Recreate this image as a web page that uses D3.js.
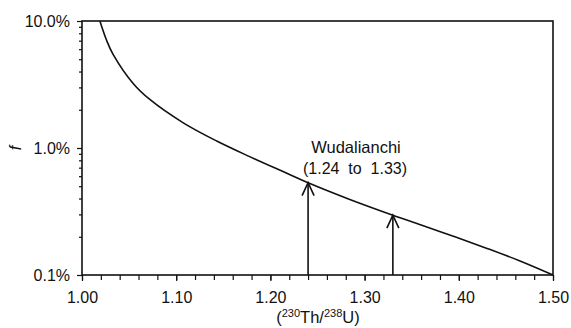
<!DOCTYPE html>
<html>
<head>
<meta charset="utf-8">
<script src="https://cdn.jsdelivr.net/npm/d3@7"></script>
<style>
  body { margin: 0; background: #fff; }
  text { font-family: "Liberation Sans", Arial, sans-serif; fill: #111; }
</style>
</head>
<body>
<div id="chart"></div>
<script>
// curve: activity ratio vs f (fraction)
const ratio = [1.019, 1.026, 1.033, 1.055, 1.072, 1.1075, 1.143, 1.178, 1.214, 1.240, 1.285, 1.330, 1.360, 1.395, 1.430, 1.465, 1.500];
const fValue = [0.100, 0.0708, 0.0547, 0.0318, 0.0241, 0.01578, 0.01135, 0.00855, 0.00649, 0.00533, 0.00392, 0.00296, 0.00248, 0.00201, 0.00162, 0.00129, 0.0010];

// arrows marking the Wudalianchi range
const arrowX = [1.24, 1.33];
const arrowF = [0.00533, 0.00296];

const xTicks = [1.0, 1.1, 1.2, 1.3, 1.4, 1.5];
const yTicks = [0.001, 0.01, 0.1];

const config_size = {
  svg_width: 571,
  svg_height: 328,
  plot: { left: 82, right: 553, top: 21, bottom: 275 },
};

const svg = d3.select('#chart').append('svg')
  .attr('width', config_size.svg_width)
  .attr('height', config_size.svg_height);

const p = config_size.plot;

const x = d3.scaleLinear().domain([1.0, 1.5]).range([p.left, p.right]);
const y = d3.scaleLog().domain([0.001, 0.1]).range([p.bottom, p.top]);

// minor ticks
const xMinor = d3.range(0, 26).map(i => 1 + i * 0.02);
const yMinor = [];
[0.001, 0.01].forEach(d => { for (let k = 2; k <= 9; k++) yMinor.push(d * k); });

svg.append('g')
  .attr('transform', `translate(0,${p.bottom})`)
  .call(d3.axisBottom(x).tickValues(xMinor).tickSize(5).tickFormat(''))
  .call(g => g.select('.domain').remove())
  .selectAll('line').attr('stroke', '#111').attr('stroke-width', 1.2);

svg.append('g')
  .attr('transform', `translate(${p.left},0)`)
  .call(d3.axisLeft(y).tickValues(yMinor).tickSize(3).tickFormat(''))
  .call(g => g.select('.domain').remove())
  .selectAll('line').attr('stroke', '#111').attr('stroke-width', 1.2);

// major ticks with labels
const xAxis = svg.append('g')
  .attr('transform', `translate(0,${p.bottom})`)
  .call(d3.axisBottom(x).tickValues(xTicks).tickSize(6).tickPadding(11).tickFormat(d3.format('.2f')));
xAxis.select('.domain').remove();
xAxis.selectAll('line').attr('stroke', '#111').attr('stroke-width', 1.2);
xAxis.selectAll('text').style('font-size', '16px').attr('fill', '#111')
  .style('font-family', '"Liberation Sans", Arial, sans-serif');

const yAxis = svg.append('g')
  .attr('transform', `translate(${p.left},0)`)
  .call(d3.axisLeft(y).tickValues(yTicks).tickSize(5).tickPadding(7).tickFormat(d3.format('.1%')));
yAxis.select('.domain').remove();
yAxis.selectAll('line').attr('stroke', '#111').attr('stroke-width', 1.2);
yAxis.selectAll('text').style('font-size', '16px').attr('fill', '#111')
  .style('font-family', '"Liberation Sans", Arial, sans-serif');

// frame
svg.append('rect')
  .attr('x', p.left).attr('y', p.top)
  .attr('width', p.right - p.left).attr('height', p.bottom - p.top)
  .attr('fill', 'none').attr('stroke', '#111').attr('stroke-width', 1.6);

// the curve
const data = ratio.map((r, i) => ({ r: r, f: fValue[i] }));
svg.append('path')
  .datum(data)
  .attr('fill', 'none')
  .attr('stroke', '#111')
  .attr('stroke-width', 1.6)
  .attr('d', d3.line()
    .x(d => x(d.r))
    .y(d => y(d.f))
    .curve(d3.curveCatmullRom.alpha(0.5)));

// arrows
arrowX.forEach((r, i) => {
  const ax = x(r), ay = y(arrowF[i]);
  svg.append('line')
    .attr('x1', ax).attr('x2', ax)
    .attr('y1', p.bottom).attr('y2', ay)
    .attr('stroke', '#111').attr('stroke-width', 1.6);
  svg.append('path')
    .attr('d', `M${ax - 6},${ay + 13}L${ax},${ay}L${ax + 6},${ay + 13}`)
    .attr('fill', 'none').attr('stroke', '#111').attr('stroke-width', 1.6);
});

// annotation
svg.append('text')
  .attr('x', 356).attr('y', 153)
  .attr('text-anchor', 'middle')
  .style('font-size', '16.5px')
  .text('Wudalianchi');
svg.append('text')
  .attr('x', 355).attr('y', 174)
  .attr('text-anchor', 'middle')
  .style('font-size', '16px')
  .style('white-space', 'pre')
  .attr('xml:space', 'preserve')
  .text('(1.24  to  1.33)');

// axis titles
svg.append('text')
  .attr('transform', 'translate(21,148) rotate(-90)')
  .attr('text-anchor', 'middle')
  .style('font-size', '16px')
  .style('font-style', 'italic')
  .text('f');

const xt = svg.append('text')
  .attr('x', 318).attr('y', 323)
  .attr('text-anchor', 'middle')
  .style('font-size', '16.5px');
xt.append('tspan').text('(');
xt.append('tspan').attr('dy', -6).style('font-size', '11px').text('230');
xt.append('tspan').attr('dy', 6).text('Th/');
xt.append('tspan').attr('dy', -6).style('font-size', '11px').text('238');
xt.append('tspan').attr('dy', 6).text('U)');
</script>
</body>
</html>
